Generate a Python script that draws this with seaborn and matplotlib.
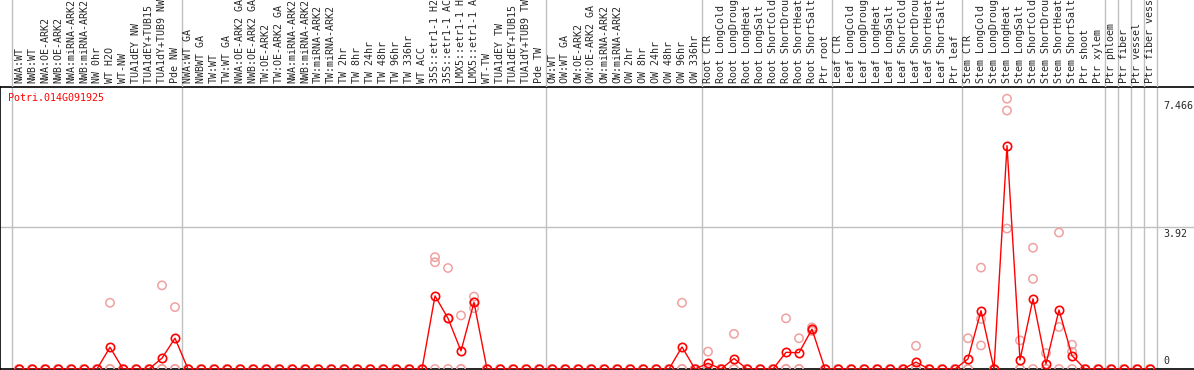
import numpy as np
import pandas as pd
import matplotlib
matplotlib.use('Agg')
import matplotlib.pyplot as plt
import seaborn as sns

# Sample labels, one list per group of columns (chart order)
nw_labels = ["NWA:WT", "NWB:WT", "NWA:OE-ARK2", "NWB:OE-ARK2", "NWA:miRNA-ARK2",
             "NWB:miRNA-ARK2", "NW 0hr", "WT H2O", "WT-NW", "TUA1dEY NW",
             "TUA1dEY+TUB15 NW", "TUA1dY+TUB9 NW", "Pde NW"]
tw_labels = ["NWA:WT GA", "NWBWT GA", "TW:WT", "TW:WT GA", "NWA:OE-ARK2 GA",
             "NWB:OE-ARK2 GA", "TW:OE-ARK2", "TW:OE-ARK2 GA", "NWA:miRNA-ARK2",
             "NWB:miRNA-ARK2", "TW:miRNA-ARK2", "TW:miRNA-ARK2", "TW 2hr", "TW 8hr",
             "TW 24hr", "TW 48hr", "TW 96hr", "TW 336hr", "WT ACC", "35S::etr1-1 H2O",
             "35S::etr1-1 ACC", "LMX5::etr1-1 H2O", "LMX5::etr1-1 ACC", "WT-TW",
             "TUA1dEY TW", "TUA1dEY+TUB15 TW", "TUA1dY+TUB9 TW", "Pde TW"]
ow_labels = ["OW:WT", "OW:WT GA", "OW:OE-ARK2", "OW:OE-ARK2 GA", "OW:miRNA-ARK2",
             "OW:miRNA-ARK2", "OW 2hr", "OW 8hr", "OW 24hr", "OW 48hr", "OW 96hr", "OW 336hr"]
root_labels = ["Root CTR", "Root LongCold", "Root LongDrought", "Root LongHeat",
               "Root LongSalt", "Root ShortCold", "Root ShortDrought", "Root ShortHeat",
               "Root ShortSalt", "Ptr root"]
leaf_labels = ["Leaf CTR", "Leaf LongCold", "Leaf LongDrought", "Leaf LongHeat",
               "Leaf LongSalt", "Leaf ShortCold", "Leaf ShortDrought", "Leaf ShortHeat",
               "Leaf ShortSalt", "Ptr leaf"]
stem_labels = ["Stem CTR", "Stem LongCold", "Stem LongDrought", "Stem LongHeat",
               "Stem LongSalt", "Stem ShortCold", "Stem ShortDrought", "Stem ShortHeat",
               "Stem ShortSalt", "Ptr shoot", "Ptr xylem"]
phloem_labels = ["Ptr phloem"]
fiber_labels = ["Ptr fiber"]
vessel_labels = ["Ptr vessel"]
fiber_vessel_labels = ["Ptr fiber vessel"]

# Mean expression (red line)
mean_vals = [
    0, 0, 0, 0, 0, 0, 0, 0.60, 0, 0, 0, 0.30, 0.85,
    0, 0, 0, 0, 0, 0, 0, 0, 0, 0, 0, 0, 0, 0, 0, 0, 0, 0, 0, 2.02, 1.40, 0.50, 1.84, 0, 0, 0, 0, 0,
    0, 0, 0, 0, 0, 0, 0, 0, 0, 0, 0.61, 0,
    0.16, 0, 0.29, 0, 0, 0, 0.46, 0.45, 1.10, 0,
    0, 0, 0, 0, 0, 0, 0.19, 0, 0, 0,
    0.28, 1.61, 0, 6.17, 0.25, 1.94, 0.14, 1.63, 0.37, 0, 0,
    0, 0, 0, 0,
]

# Individual replicates (light circles)
rep_a = [
    0, 0, 0, 0, 0, 0, 0, 1.83, 0, 0, 0, 2.31, 1.71,
    0, 0, 0, 0, 0, 0, 0, 0, 0, 0, 0, 0, 0, 0, 0, 0, 0, 0, 0, 3.09, 2.79, 1.48, 2.00, 0, 0, 0, 0, 0,
    0, 0, 0, 0, 0, 0, 0, 0, 0, 0, 1.83, 0,
    0.48, 0, 0.97, 0, 0, 0, 1.40, 0.85, 1.15, 0,
    0, 0, 0, 0, 0, 0, 0.64, 0, 0, 0,
    0.85, 2.80, 0, 7.466, 0.79, 3.35, 0.44, 3.77, 0.67, 0, 0,
    0, 0, 0, 0,
]
rep_b = [
    0, 0, 0, 0, 0, 0, 0, 0, 0, 0, 0, 0, 0,
    0, 0, 0, 0, 0, 0, 0, 0, 0, 0, 0, 0, 0, 0, 0, 0, 0, 0, 0, 2.95, 1.40, 0, 1.68, 0, 0, 0, 0, 0,
    0, 0, 0, 0, 0, 0, 0, 0, 0, 0, 0, 0,
    0, 0, 0, 0, 0, 0, 0, 0, 1.05, 0,
    0, 0, 0, 0, 0, 0, 0, 0, 0, 0,
    0, 1.38, 0, 7.14, 0, 2.49, 0, 1.16, 0.48, 0, 0,
    0, 0, 0, 0,
]
rep_c = [
    0, 0, 0, 0, 0, 0, 0, 0, 0, 0, 0, 0, 0,
    0, 0, 0, 0, 0, 0, 0, 0, 0, 0, 0, 0, 0, 0, 0, 0, 0, 0, 0, 0, 0, 0, 1.84, 0, 0, 0, 0, 0,
    0, 0, 0, 0, 0, 0, 0, 0, 0, 0, 0, 0,
    0, 0, 0, 0, 0, 0, 0, 0, 1.10, 0,
    0, 0, 0, 0, 0, 0, 0, 0, 0, 0,
    0, 0.65, 0, 3.88, 0, 0, 0, 0, 0, 0, 0,
    0, 0, 0, 0,
]

gene_name = "Potri.014G091925"
ref_levels = [7.466, 3.92, 0]
ref_texts = ["7.466", "3.92", "0"]

groups = [nw_labels, tw_labels, ow_labels, root_labels, leaf_labels, stem_labels,
          phloem_labels, fiber_labels, vessel_labels, fiber_vessel_labels]
labels = sum(groups, [])
pos = np.arange(len(labels))
bounds = np.concatenate([[0], np.cumsum([len(g) for g in groups])]) - 0.5

reps = pd.DataFrame({'pos': np.tile(pos, 3), 'value': rep_a + rep_b + rep_c})

sns.set_style('white')
plt.rcParams['font.family'] = ['DejaVu Sans Mono']
plt.rcParams['font.size'] = 7.2

red = '#ff0000'
pink = '#f0a0a0'
grid = '#c0c0c0'

fig = plt.figure(figsize=(11.94, 3.70), dpi=100)
ax = fig.add_axes([0, 1 / 370, 1, 282 / 370])
hax = fig.add_axes([0, 283 / 370, 1, 87 / 370])

xlim = (-19 / 13, (1194 - 19) / 13)
for a in (ax, hax):
    a.set_xlim(*xlim)
    for b in bounds:
        a.axvline(b, color=grid, lw=1, zorder=1)
ax.axhline(3.92, color=grid, lw=1, zorder=1)
ax.set_ylim(0, 7.79)

sns.scatterplot(data=reps, x='pos', y='value', ax=ax, marker='o', s=36,
                color=pink, facecolor='none', edgecolor=pink, linewidth=1.1,
                zorder=3, legend=False)
sns.lineplot(x=pos, y=mean_vals, ax=ax, color=red, lw=1.0, errorbar=None,
             marker='o', markersize=6, markerfacecolor='none',
             markeredgecolor=red, markeredgewidth=1.2, zorder=4)

ax.set_xticks([])
ax.set_yticks([])
ax.set_xlabel('')
ax.set_ylabel('')
ax.spines['right'].set_visible(False)
for s in ('left', 'bottom', 'top'):
    ax.spines[s].set_color('black')
    ax.spines[s].set_linewidth(1.2)

ax.text(8 / 1194, 0.98, gene_name, color=red, transform=ax.transAxes,
        ha='left', va='top')
for lvl, txt in zip(ref_levels, ref_texts):
    if lvl == 0:
        ax.annotate(txt, (88.0, lvl), xytext=(0, 2), textcoords='offset points',
                    ha='left', va='bottom')
    else:
        ax.annotate(txt, (88.0, lvl), xytext=(0, -1.5), textcoords='offset points',
                    ha='left', va='top')

# header with vertical sample labels
hax.set_ylim(0, 1)
hax.axis('off')
for p, lab in zip(pos, labels):
    hax.text(p, 4 / 87, lab, rotation=90, ha='center', va='bottom',
             transform=hax.get_xaxis_transform())

fig.savefig('out.png', dpi=100)
